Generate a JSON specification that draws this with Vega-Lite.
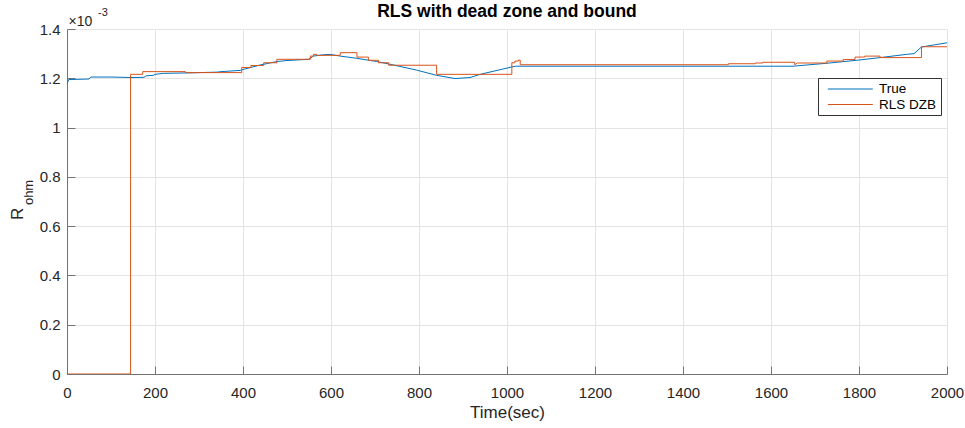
{
  "$schema": "https://vega.github.io/schema/vega-lite/v6.json",
  "width": 880,
  "height": 345,
  "autosize": "none",
  "padding": {"left": 67, "top": 29, "right": 18, "bottom": 54},
  "background": "white",
  "title": {"text": "RLS with dead zone and bound", "fontSize": 17.5, "fontWeight": "bold", "font": "Liberation Sans", "color": "#000000", "anchor": "middle", "frame": "group", "offset": -31, "baseline": "bottom"},
  "config": {
    "view": {"stroke": null},
    "font": "Liberation Sans",
    "axis": {"gridColor": "#e4e4e4", "gridWidth": 1, "domainColor": "#737373", "tickColor": "#737373", "labelColor": "#262626", "labelFontSize": 15, "labelFont": "Liberation Sans", "titleFont": "Liberation Sans", "titleColor": "#262626", "titleFontWeight": "normal", "tickSize": -8, "labelFlush": false}
  },
  "data": {"values": [
    {"i": 1, "series": "True", "t": 0, "R": 0.001178},
    {"i": 2, "series": "True", "t": 4, "R": 0.001195},
    {"i": 3, "series": "True", "t": 50, "R": 0.001197},
    {"i": 4, "series": "True", "t": 54, "R": 0.001205},
    {"i": 5, "series": "True", "t": 100, "R": 0.001205},
    {"i": 6, "series": "True", "t": 150, "R": 0.001203},
    {"i": 7, "series": "True", "t": 175, "R": 0.001204},
    {"i": 8, "series": "True", "t": 180, "R": 0.00121},
    {"i": 9, "series": "True", "t": 196, "R": 0.001212},
    {"i": 10, "series": "True", "t": 200, "R": 0.001216},
    {"i": 11, "series": "True", "t": 219, "R": 0.00122},
    {"i": 12, "series": "True", "t": 280, "R": 0.001222},
    {"i": 13, "series": "True", "t": 341, "R": 0.001225},
    {"i": 14, "series": "True", "t": 350, "R": 0.001227},
    {"i": 15, "series": "True", "t": 394, "R": 0.001232},
    {"i": 16, "series": "True", "t": 400, "R": 0.001236},
    {"i": 17, "series": "True", "t": 416, "R": 0.001243},
    {"i": 18, "series": "True", "t": 439, "R": 0.001254},
    {"i": 19, "series": "True", "t": 477, "R": 0.001268},
    {"i": 20, "series": "True", "t": 500, "R": 0.001272},
    {"i": 21, "series": "True", "t": 549, "R": 0.001277},
    {"i": 22, "series": "True", "t": 560, "R": 0.00129},
    {"i": 23, "series": "True", "t": 580, "R": 0.001295},
    {"i": 24, "series": "True", "t": 598, "R": 0.001297},
    {"i": 25, "series": "True", "t": 621, "R": 0.00129},
    {"i": 26, "series": "True", "t": 659, "R": 0.001281},
    {"i": 27, "series": "True", "t": 704, "R": 0.001268},
    {"i": 28, "series": "True", "t": 742, "R": 0.001254},
    {"i": 29, "series": "True", "t": 795, "R": 0.001233},
    {"i": 30, "series": "True", "t": 840, "R": 0.001212},
    {"i": 31, "series": "True", "t": 882, "R": 0.001199},
    {"i": 32, "series": "True", "t": 916, "R": 0.001203},
    {"i": 33, "series": "True", "t": 939, "R": 0.001216},
    {"i": 34, "series": "True", "t": 1011, "R": 0.001246},
    {"i": 35, "series": "True", "t": 1020, "R": 0.001249},
    {"i": 36, "series": "True", "t": 1650, "R": 0.001249},
    {"i": 37, "series": "True", "t": 1727, "R": 0.001261},
    {"i": 38, "series": "True", "t": 1795, "R": 0.001273},
    {"i": 39, "series": "True", "t": 1848, "R": 0.001284},
    {"i": 40, "series": "True", "t": 1908, "R": 0.001297},
    {"i": 41, "series": "True", "t": 1925, "R": 0.0013},
    {"i": 42, "series": "True", "t": 1942, "R": 0.001327},
    {"i": 43, "series": "True", "t": 2000, "R": 0.001344},
    {"i": 101, "series": "RLS DZB", "t": 0, "R": 0},
    {"i": 102, "series": "RLS DZB", "t": 144.5, "R": 0},
    {"i": 103, "series": "RLS DZB", "t": 144.5, "R": 0.001216},
    {"i": 104, "series": "RLS DZB", "t": 172, "R": 0.001216},
    {"i": 105, "series": "RLS DZB", "t": 172, "R": 0.001227},
    {"i": 106, "series": "RLS DZB", "t": 269, "R": 0.001227},
    {"i": 107, "series": "RLS DZB", "t": 269, "R": 0.001223},
    {"i": 108, "series": "RLS DZB", "t": 397, "R": 0.001223},
    {"i": 109, "series": "RLS DZB", "t": 397, "R": 0.001244},
    {"i": 110, "series": "RLS DZB", "t": 418, "R": 0.001244},
    {"i": 111, "series": "RLS DZB", "t": 418, "R": 0.001252},
    {"i": 112, "series": "RLS DZB", "t": 447, "R": 0.001252},
    {"i": 113, "series": "RLS DZB", "t": 447, "R": 0.001263},
    {"i": 114, "series": "RLS DZB", "t": 477, "R": 0.001263},
    {"i": 115, "series": "RLS DZB", "t": 477, "R": 0.001277},
    {"i": 116, "series": "RLS DZB", "t": 553, "R": 0.001277},
    {"i": 117, "series": "RLS DZB", "t": 553, "R": 0.00129},
    {"i": 118, "series": "RLS DZB", "t": 560, "R": 0.00129},
    {"i": 119, "series": "RLS DZB", "t": 560, "R": 0.001297},
    {"i": 120, "series": "RLS DZB", "t": 568, "R": 0.001297},
    {"i": 121, "series": "RLS DZB", "t": 568, "R": 0.001293},
    {"i": 122, "series": "RLS DZB", "t": 621, "R": 0.001293},
    {"i": 123, "series": "RLS DZB", "t": 621, "R": 0.001304},
    {"i": 124, "series": "RLS DZB", "t": 659, "R": 0.001304},
    {"i": 125, "series": "RLS DZB", "t": 659, "R": 0.001286},
    {"i": 126, "series": "RLS DZB", "t": 685, "R": 0.001286},
    {"i": 127, "series": "RLS DZB", "t": 685, "R": 0.001273},
    {"i": 128, "series": "RLS DZB", "t": 708, "R": 0.001273},
    {"i": 129, "series": "RLS DZB", "t": 708, "R": 0.001263},
    {"i": 130, "series": "RLS DZB", "t": 731, "R": 0.001263},
    {"i": 131, "series": "RLS DZB", "t": 731, "R": 0.001253},
    {"i": 132, "series": "RLS DZB", "t": 840, "R": 0.001253},
    {"i": 133, "series": "RLS DZB", "t": 840, "R": 0.001216},
    {"i": 134, "series": "RLS DZB", "t": 1011, "R": 0.001216},
    {"i": 135, "series": "RLS DZB", "t": 1011, "R": 0.001263},
    {"i": 136, "series": "RLS DZB", "t": 1018, "R": 0.001263},
    {"i": 137, "series": "RLS DZB", "t": 1018, "R": 0.00127},
    {"i": 138, "series": "RLS DZB", "t": 1026, "R": 0.00127},
    {"i": 139, "series": "RLS DZB", "t": 1026, "R": 0.001274},
    {"i": 140, "series": "RLS DZB", "t": 1030, "R": 0.001274},
    {"i": 141, "series": "RLS DZB", "t": 1030, "R": 0.001255},
    {"i": 142, "series": "RLS DZB", "t": 1503, "R": 0.001255},
    {"i": 143, "series": "RLS DZB", "t": 1503, "R": 0.001259},
    {"i": 144, "series": "RLS DZB", "t": 1564, "R": 0.001259},
    {"i": 145, "series": "RLS DZB", "t": 1564, "R": 0.001262},
    {"i": 146, "series": "RLS DZB", "t": 1581, "R": 0.001262},
    {"i": 147, "series": "RLS DZB", "t": 1581, "R": 0.001265},
    {"i": 148, "series": "RLS DZB", "t": 1654, "R": 0.001265},
    {"i": 149, "series": "RLS DZB", "t": 1654, "R": 0.001255},
    {"i": 150, "series": "RLS DZB", "t": 1660, "R": 0.001262},
    {"i": 151, "series": "RLS DZB", "t": 1727, "R": 0.001262},
    {"i": 152, "series": "RLS DZB", "t": 1727, "R": 0.00127},
    {"i": 153, "series": "RLS DZB", "t": 1764, "R": 0.00127},
    {"i": 154, "series": "RLS DZB", "t": 1764, "R": 0.001276},
    {"i": 155, "series": "RLS DZB", "t": 1791, "R": 0.001276},
    {"i": 156, "series": "RLS DZB", "t": 1791, "R": 0.001286},
    {"i": 157, "series": "RLS DZB", "t": 1813, "R": 0.001286},
    {"i": 158, "series": "RLS DZB", "t": 1813, "R": 0.00129},
    {"i": 159, "series": "RLS DZB", "t": 1848, "R": 0.00129},
    {"i": 160, "series": "RLS DZB", "t": 1848, "R": 0.001284},
    {"i": 161, "series": "RLS DZB", "t": 1942, "R": 0.001284},
    {"i": 162, "series": "RLS DZB", "t": 1942, "R": 0.001328},
    {"i": 163, "series": "RLS DZB", "t": 2000, "R": 0.001328}
  ]},
  "layer": [
    {
      "mark": {"type": "line", "strokeWidth": 1, "clip": true},
      "encoding": {
        "x": {"field": "t", "type": "quantitative", "scale": {"domain": [0, 2000], "nice": false}, "axis": {"values": [0, 200, 400, 600, 800, 1000, 1200, 1400, 1600, 1800, 2000], "format": "d", "title": "Time(sec)", "titleFontSize": 17, "labelPadding": 19, "titlePadding": 4}},
        "y": {"field": "R", "type": "quantitative", "scale": {"domain": [0, 0.0014], "nice": false, "zero": false}, "axis": {"values": [0, 0.0002, 0.0004, 0.0006, 0.0008, 0.001, 0.0012, 0.0014], "labelExpr": "format(datum.value * 1000, '~g')", "title": null, "labelPadding": 15}},
        "color": {"field": "series", "type": "nominal", "scale": {"domain": ["True", "RLS DZB"], "range": ["#0072BD", "#D95319"]}, "legend": {"title": null, "orient": "none", "legendX": 751, "legendY": 49, "fillColor": "white", "strokeColor": "#333333", "padding": 4, "symbolType": "M-0.2,0H7.3", "symbolSize": 144, "symbolStrokeWidth": 1.2, "labelOffset": 43, "labelFontSize": 13.5, "labelFont": "Liberation Sans", "labelColor": "#000000", "rowPadding": 1.5}},
        "order": {"field": "i", "type": "quantitative"}
      }
    },
    {
      "data": {"values": [{"txt": "×10"}]},
      "mark": {"type": "text", "align": "left", "baseline": "alphabetic", "fontSize": 14, "color": "#262626", "dx": 1.5, "dy": -3},
      "encoding": {"x": {"datum": 0, "type": "quantitative"}, "y": {"datum": 0.0014, "type": "quantitative"}, "text": {"field": "txt"}}
    },
    {
      "data": {"values": [{"txt": "-3"}]},
      "mark": {"type": "text", "align": "left", "baseline": "alphabetic", "fontSize": 11, "color": "#262626", "dx": 31, "dy": -13},
      "encoding": {"x": {"datum": 0, "type": "quantitative"}, "y": {"datum": 0.0014, "type": "quantitative"}, "text": {"field": "txt"}}
    },
    {
      "data": {"values": [{"txt": "R"}]},
      "mark": {"type": "text", "align": "left", "baseline": "alphabetic", "angle": 270, "fontSize": 17, "color": "#262626", "dx": -18.6, "dy": -43.7},
      "encoding": {"x": {"datum": 0, "type": "quantitative"}, "y": {"datum": 0.0007, "type": "quantitative"}, "text": {"field": "txt"}}
    },
    {
      "data": {"values": [{"txt": "ohm"}]},
      "mark": {"type": "text", "align": "left", "baseline": "alphabetic", "angle": 270, "fontSize": 13, "color": "#262626", "dx": -3.6, "dy": -33.7},
      "encoding": {"x": {"datum": 0, "type": "quantitative"}, "y": {"datum": 0.0007, "type": "quantitative"}, "text": {"field": "txt"}}
    }
  ]
}
